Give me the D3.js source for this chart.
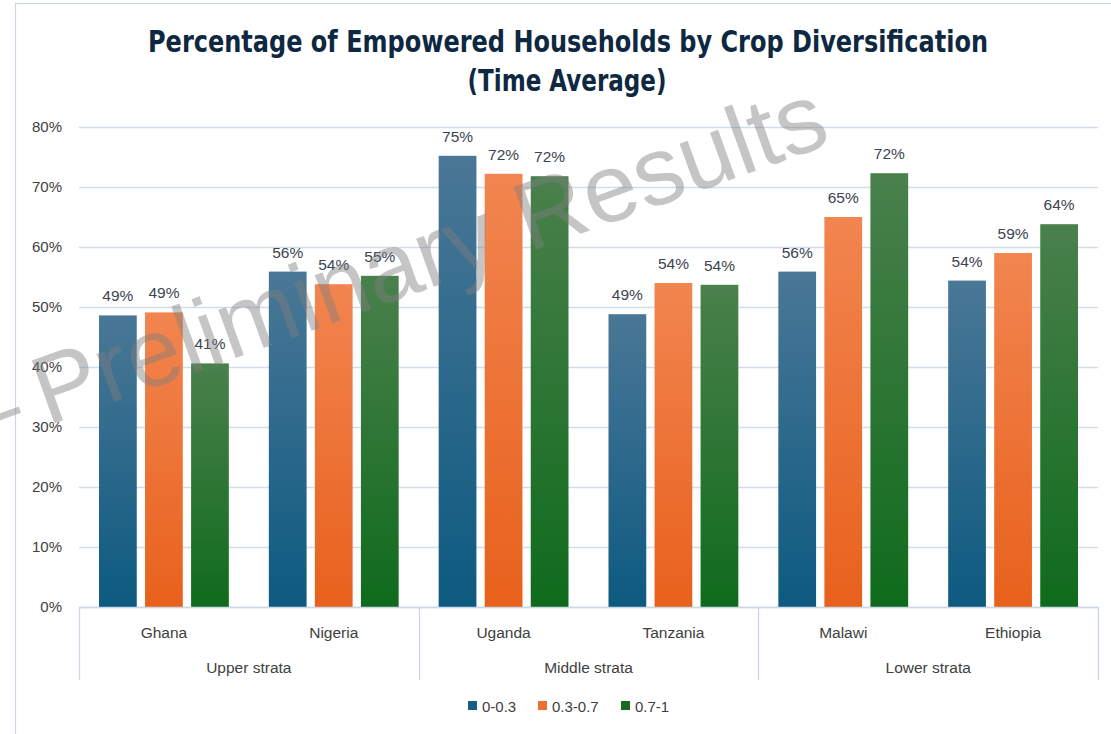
<!DOCTYPE html>
<html>
<head>
<meta charset="utf-8">
<script src="https://cdn.jsdelivr.net/npm/d3@7"></script>
<style>
  html, body { margin: 0; padding: 0; background: #fff; }
  svg { display: block; }
</style>
</head>
<body>
<svg id="chart" width="1111" height="734"></svg>
<script>
// Countries along the category axis, grouped into strata
const countries = ["Ghana", "Nigeria", "Uganda", "Tanzania", "Malawi", "Ethiopia"];
const strata = ["Upper strata", "Middle strata", "Lower strata"];
const strataOf = ["Upper strata", "Upper strata", "Middle strata", "Middle strata", "Lower strata", "Lower strata"];

// Crop diversification index bands
const seriesNames = ["0-0.3", "0.3-0.7", "0.7-1"];

// Share of empowered households (time average), one array per band
const low  = [0.486, 0.559, 0.752, 0.488, 0.559, 0.544];
const mid  = [0.491, 0.538, 0.722, 0.540, 0.650, 0.590];
const high = [0.406, 0.552, 0.718, 0.537, 0.723, 0.638];

const yTicks = [0, 0.1, 0.2, 0.3, 0.4, 0.5, 0.6, 0.7, 0.8];

const seriesValues = [low, mid, high];
const colors = ["#156082", "#e97132", "#196b24"];
const topColors = ["#4a7796", "#f28550", "#4a804c"];
const botColors = ["#0d5a80", "#e8611c", "#0f6b1c"];

const svg = d3.select("#chart");

const plot = { left: 79, right: 1098, top: 127, bottom: 607 };

const x0 = d3.scaleBand().domain(countries).range([plot.left, plot.right]).padding(0);
const x1 = d3.scaleBand().domain(seriesNames).range([20, x0.bandwidth() - 20]).paddingInner(0.18).paddingOuter(0);
const y = d3.scaleLinear().domain([0, 0.8]).range([plot.bottom, plot.top]);

// Vertical gradients for each series
const defs = svg.append("defs");
seriesNames.forEach((s, i) => {
  const g = defs.append("linearGradient")
    .attr("id", "grad" + i)
    .attr("x1", 0).attr("y1", 0).attr("x2", 0).attr("y2", 1);
  g.append("stop").attr("offset", "0%").attr("stop-color", topColors[i]);
  g.append("stop").attr("offset", "100%").attr("stop-color", botColors[i]);
});

// Outer chart frame
svg.append("rect")
  .attr("x", 15.5).attr("y", 3.5)
  .attr("width", 1110).attr("height", 740)
  .attr("fill", "none")
  .attr("stroke", "#c9d7e6")
  .attr("stroke-width", 1.2);

// Title
const title = svg.append("g")
  .attr("font-family", "'Liberation Sans Narrow', 'DejaVu Sans Condensed', 'Liberation Sans', sans-serif")
  .attr("font-weight", "bold")
  .attr("fill", "#0e2841")
  .attr("text-anchor", "middle");
title.append("text")
  .attr("x", 568).attr("y", 52)
  .attr("font-size", 30)
  .attr("textLength", 840).attr("lengthAdjust", "spacingAndGlyphs")
  .text("Percentage of Empowered Households by Crop Diversification");
title.append("text")
  .attr("x", 567).attr("y", 91)
  .attr("font-size", 30)
  .attr("textLength", 199).attr("lengthAdjust", "spacingAndGlyphs")
  .text("(Time Average)");

// Horizontal gridlines and y-axis labels
const yAxis = d3.axisLeft(y)
  .tickValues(yTicks)
  .tickFormat(d3.format(".0%"))
  .tickSize(-(plot.right - plot.left))
  .tickPadding(17);
const gy = svg.append("g")
  .attr("transform", `translate(${plot.left},0)`)
  .call(yAxis);
gy.select(".domain").remove();
gy.selectAll(".tick line").attr("stroke", "#d3ddea").attr("stroke-width", 1.3);
gy.selectAll(".tick text")
  .attr("font-family", "'Liberation Sans', Arial, sans-serif")
  .attr("font-size", 15)
  .attr("fill", "#404040");

// Bars
const groups = svg.append("g").selectAll("g")
  .data(countries)
  .join("g")
  .attr("transform", d => `translate(${x0(d)},0)`);

groups.selectAll("rect")
  .data((c, ci) => seriesNames.map((s, si) => ({ s, si, v: seriesValues[si][ci] })))
  .join("rect")
  .attr("x", d => x1(d.s))
  .attr("width", x1.bandwidth())
  .attr("y", d => y(d.v))
  .attr("height", d => y(0) - y(d.v))
  .attr("fill", d => `url(#grad${d.si})`);

// Value labels above bars
groups.selectAll("text.val")
  .data((c, ci) => seriesNames.map((s, si) => ({ s, si, v: seriesValues[si][ci] })))
  .join("text")
  .attr("class", "val")
  .attr("x", d => x1(d.s) + x1.bandwidth() / 2)
  .attr("y", d => y(d.v) - 14)
  .attr("text-anchor", "middle")
  .attr("font-family", "'Liberation Sans', Arial, sans-serif")
  .attr("font-size", 15.5)
  .attr("fill", "#3b4450")
  .text(d => d3.format(".0%")(d.v));

// Category axis: baseline, strata dividers, labels
const axisG = svg.append("g");
axisG.append("line")
  .attr("x1", plot.left).attr("x2", plot.right)
  .attr("y1", plot.bottom + 0.5).attr("y2", plot.bottom + 0.5)
  .attr("stroke", "#c9d7e6").attr("stroke-width", 1.3);

const strataBounds = strata.map(st => {
  const members = countries.filter((c, i) => strataOf[i] === st);
  return { name: st, x0: x0(members[0]), x1: x0(members[members.length - 1]) + x0.bandwidth() };
});
const dividerXs = [strataBounds[0].x0].concat(strataBounds.map(b => b.x1));
axisG.selectAll("line.div")
  .data(dividerXs)
  .join("line")
  .attr("class", "div")
  .attr("x1", d => Math.round(d) + 0.5).attr("x2", d => Math.round(d) + 0.5)
  .attr("y1", plot.bottom).attr("y2", 680)
  .attr("stroke", "#c9d7e6").attr("stroke-width", 1.3);

axisG.selectAll("text.country")
  .data(countries)
  .join("text")
  .attr("class", "country")
  .attr("x", d => x0(d) + x0.bandwidth() / 2)
  .attr("y", 638)
  .attr("text-anchor", "middle")
  .attr("font-family", "'Liberation Sans', Arial, sans-serif")
  .attr("font-size", 15.5)
  .attr("fill", "#404040")
  .text(d => d);

axisG.selectAll("text.strata")
  .data(strataBounds)
  .join("text")
  .attr("class", "strata")
  .attr("x", d => (d.x0 + d.x1) / 2)
  .attr("y", 673)
  .attr("text-anchor", "middle")
  .attr("font-family", "'Liberation Sans', Arial, sans-serif")
  .attr("font-size", 15.5)
  .attr("fill", "#404040")
  .text(d => d.name);

// Legend
const legendX = [468, 538, 621];
const legend = svg.append("g").selectAll("g")
  .data(seriesNames)
  .join("g")
  .attr("transform", (d, i) => `translate(${legendX[i]},707)`);
legend.append("rect")
  .attr("x", 0).attr("y", -6)
  .attr("width", 9).attr("height", 9)
  .attr("fill", (d, i) => colors[i]);
legend.append("text")
  .attr("x", 14).attr("y", 5)
  .attr("font-family", "'Liberation Sans', Arial, sans-serif")
  .attr("font-size", 15)
  .attr("fill", "#404040")
  .text(d => d);

// Watermark, with its leading dash running off the left edge
const mark = svg.append("g")
  .attr("transform", "translate(47,426) rotate(-19.8)")
  .attr("font-family", "'Liberation Sans', Arial, sans-serif")
  .attr("font-size", 97)
  .attr("fill", "#7f7f7f")
  .attr("fill-opacity", 0.45);
mark.append("text")
  .attr("text-anchor", "start")
  .text("Preliminary Results");
mark.append("text")
  .attr("x", -20)
  .attr("text-anchor", "end")
  .text("–");
</script>
</body>
</html>
